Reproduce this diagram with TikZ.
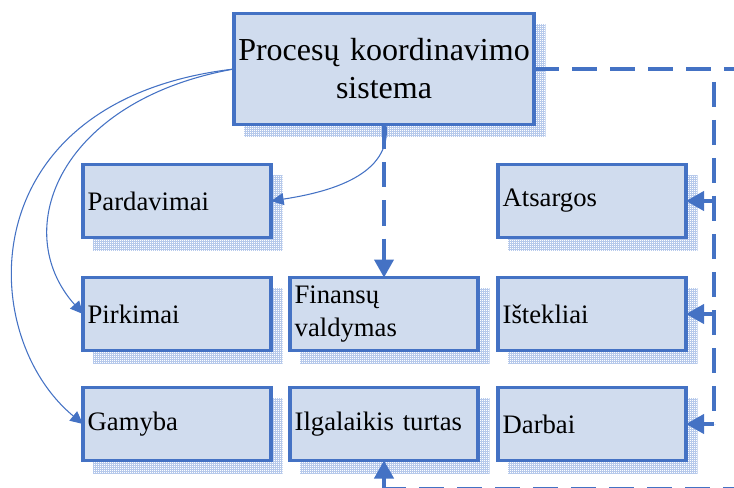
\documentclass[tikz,border=0pt]{standalone}
\usepackage{fontspec}
\setmainfont{Liberation Serif}
\usetikzlibrary{arrows.meta,patterns,backgrounds,calc}
\definecolor{edge}{RGB}{68,114,196}
\definecolor{boxfill}{RGB}{208,220,238}
\definecolor{hatch}{RGB}{182,201,235}
% fine square grid used for the drop shadows
\pgfdeclarepatternformonly{finegrid}{\pgfqpoint{-0.2pt}{-0.2pt}}{\pgfqpoint{1.7pt}{1.7pt}}{\pgfqpoint{1.5pt}{1.5pt}}{%
  \pgfsetlinewidth{0.35pt}%
  \pgfpathmoveto{\pgfqpoint{0pt}{0.75pt}}\pgfpathlineto{\pgfqpoint{1.5pt}{0.75pt}}%
  \pgfpathmoveto{\pgfqpoint{0.75pt}{0pt}}\pgfpathlineto{\pgfqpoint{0.75pt}{1.5pt}}%
  \pgfusepath{stroke}}
\begin{document}
\begin{tikzpicture}[x=0.75pt,y=-0.75pt,
  box/.style={draw=edge,fill=boxfill,line width=2.6pt,outer sep=0pt,
    inner xsep=3.5pt,inner ysep=0pt,text width=134pt,minimum height=54.75pt,
    align=left,font=\fontsize{20pt}{23.5pt}\selectfont},
  topbox/.style={box,inner xsep=0pt,text width=225pt,minimum height=83.25pt,
    align=center,font=\fontsize{24pt}{28.5pt}\selectfont},
  flow/.style={draw=edge,line width=2.3pt,dash pattern=on 18.75pt off 9.75pt},
  solidflow/.style={draw=edge,line width=2.3pt},
  bigtip/.style={-{Triangle[length=13.5pt,width=14.5pt]}},
  link/.style={draw=edge,line width=0.8pt,-{Triangle[length=9.5pt,width=9pt]}},
  shade/.style={pattern=finegrid,pattern color=hatch}]

\clip (0,0) rectangle (734,488);

% boxes
\node[topbox] (pks) at (384,69) {Procesų koordinavimo\\sistema};
\node[box] (pard) at (177,201) {Pardavimai};
\node[box] (pirk) at (177,314) {Pirkimai};
\node[box] (gam)  at (177,424) {Gamyba};
\node[box] (fin)  at (384,314) {Finansų\\[1pt]valdymas};
\node[box] (ilg)  at (384,424) {Ilgalaikis turtas};
\node[box] (ats)  at (592,201) {Atsargos};
\node[box] (ist)  at (592,314) {Ištekliai};
\node[box] (darb) at (592,424) {Darbai};

% hatched drop shadows
\begin{scope}[on background layer]
  \foreach \n in {pks,pard,pirk,gam,fin,ilg,ats,ist,darb}
    \fill[shade] ($(\n.north west)+(10,11)$) rectangle ($(\n.south east)+(11.5,12.5)$);
\end{scope}

% dashed feed to the right-hand column
\coordinate (re) at (740,69);
\coordinate (vt) at (714,69);
\coordinate (vb) at (714,424);
\draw[flow] (pks.east) -- (re);
\draw[flow,dash phase=18.75pt] (vt) -- (vb);
\draw[solidflow,bigtip] (vt |- ats.east) -- (ats.east);
\draw[solidflow,bigtip] (vt |- ist.east) -- (ist.east);
\draw[solidflow,bigtip] (vb) -- (darb.east);

% central dashed arrow
\draw[flow,bigtip] (pks.south) -- (fin.north);

% bottom feed into Ilgalaikis turtas
\coordinate (bb) at (384,488.8);
\coordinate (be) at (740,488.8);
\draw[flow,dash phase=6pt] (be) -- (bb);
\draw[solidflow,bigtip] (bb) -- (ilg.south);

% thin curved links
\draw[link] ($(pks.south)+(2,0)$) .. controls (392,175) and (330,192) .. (pard.east);
\draw[link] (pks.west) .. controls (60,100) and (8,230) .. (pirk.west);
\draw[link] (pks.west) .. controls (-30,100) and (-25,335) .. (gam.west);
\end{tikzpicture}
\end{document}
